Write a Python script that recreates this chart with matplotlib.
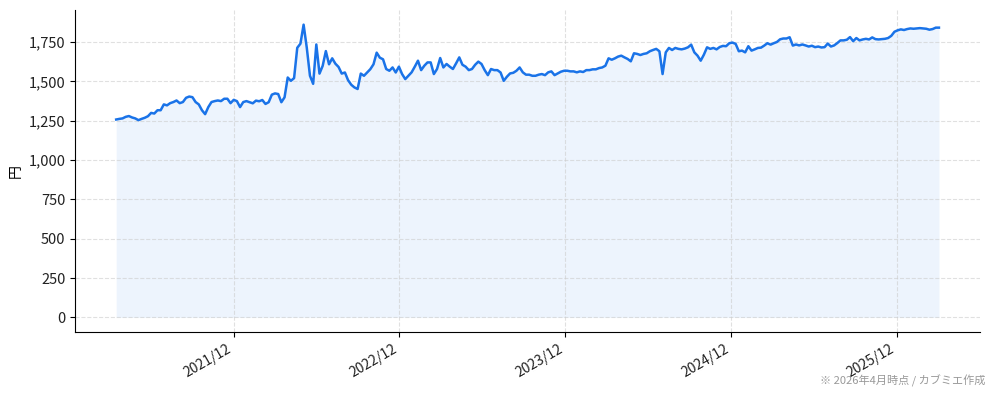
import matplotlib
matplotlib.use("Agg")
import matplotlib.pyplot as plt
import matplotlib.dates as mdates
from matplotlib.ticker import FuncFormatter
import pandas as pd

plt.rcParams['font.family'] = ['Noto Sans CJK JP', 'DejaVu Sans']

# Weekly closing prices (yen)
start_date = '2021-03-17'
prices = [
    1258, 1262, 1265, 1275, 1280, 1271, 1265, 1254, 1262, 1269,
    1279, 1300, 1296, 1317, 1317, 1354, 1348, 1362, 1369, 1379,
    1362, 1369, 1396, 1404, 1400, 1369, 1354, 1317, 1292, 1337,
    1369, 1375, 1379, 1375, 1390, 1390, 1362, 1383, 1375, 1337,
    1369, 1375, 1368, 1361, 1378, 1374, 1382, 1357, 1368, 1416,
    1424, 1420, 1368, 1399, 1525, 1504, 1521, 1714, 1740, 1861,
    1714, 1536, 1485, 1735, 1550, 1599, 1693, 1609, 1647, 1613,
    1592, 1550, 1557, 1508, 1479, 1462, 1452, 1550, 1536, 1557,
    1578, 1609, 1683, 1651, 1641, 1579, 1568, 1589, 1557, 1594,
    1547, 1515, 1536, 1558, 1594, 1632, 1572, 1600, 1621, 1621,
    1547, 1579, 1649, 1589, 1611, 1594, 1579, 1615, 1653, 1606,
    1594, 1572, 1579, 1606, 1626, 1611, 1572, 1540, 1579, 1572,
    1572, 1557, 1504, 1530, 1551, 1555, 1568, 1589, 1558, 1543,
    1543, 1536, 1536, 1543, 1547, 1540, 1558, 1564, 1540, 1551,
    1562, 1568, 1568, 1564, 1564, 1558, 1564, 1560, 1572, 1572,
    1577, 1577, 1585, 1589, 1600, 1647, 1638, 1647, 1658, 1664,
    1653, 1643, 1628, 1679, 1675, 1668, 1675, 1679, 1692, 1700,
    1707, 1692, 1547, 1685, 1713, 1700, 1713, 1707, 1704, 1709,
    1717, 1734, 1685, 1664, 1632, 1670, 1717, 1707, 1713, 1704,
    1719, 1726, 1724, 1743, 1747, 1739, 1692, 1696, 1685, 1724,
    1696, 1704, 1713, 1715, 1728, 1743, 1734, 1743, 1751, 1768,
    1773, 1773, 1781, 1728, 1735, 1729, 1735, 1729, 1722, 1727,
    1718, 1722, 1716, 1718, 1741, 1722, 1729, 1744, 1761, 1761,
    1765, 1782, 1756, 1776, 1761, 1767, 1771, 1767, 1780, 1769,
    1767, 1769, 1771, 1776, 1790, 1816, 1825, 1831, 1827, 1833,
    1837, 1835, 1837, 1839, 1837, 1835, 1829, 1833, 1842, 1842,
]
dates = pd.date_range(start_date, periods=len(prices), freq='7D')

line_color = '#1a73e8'

fig, ax = plt.subplots(figsize=(9.94, 4.01), dpi=100)
ax.plot(dates, prices, color=line_color, linewidth=1.8)
ax.fill_between(dates, prices, 0, color=line_color, alpha=0.08, linewidth=0)

ax.xaxis.set_major_locator(mdates.MonthLocator(bymonth=12))
ax.xaxis.set_major_formatter(mdates.DateFormatter('%Y/%m'))
ax.yaxis.set_major_formatter(FuncFormatter(lambda v, p: f'{int(v):,}'))
ax.set_yticks(range(0, 2000, 250))
ax.set_ylabel('円', fontsize=10)

ax.grid(True, linestyle='--', color='#cccccc', linewidth=0.8, alpha=0.6)
ax.spines['top'].set_visible(False)
ax.spines['right'].set_visible(False)
ax.tick_params(labelsize=10, labelcolor='#222222')
plt.setp(ax.get_yticklabels(), fontsize=10.5)
plt.setp(ax.get_xticklabels(), rotation=30, ha='right')

fig.text(0.991, 0.035, '※ 2026年4月時点 / カブミエ作成', ha='right', va='bottom',
         fontsize=8, color='#999999')

plt.subplots_adjust(left=0.0755, right=0.986, top=0.975, bottom=0.172)
plt.savefig('out.png')
